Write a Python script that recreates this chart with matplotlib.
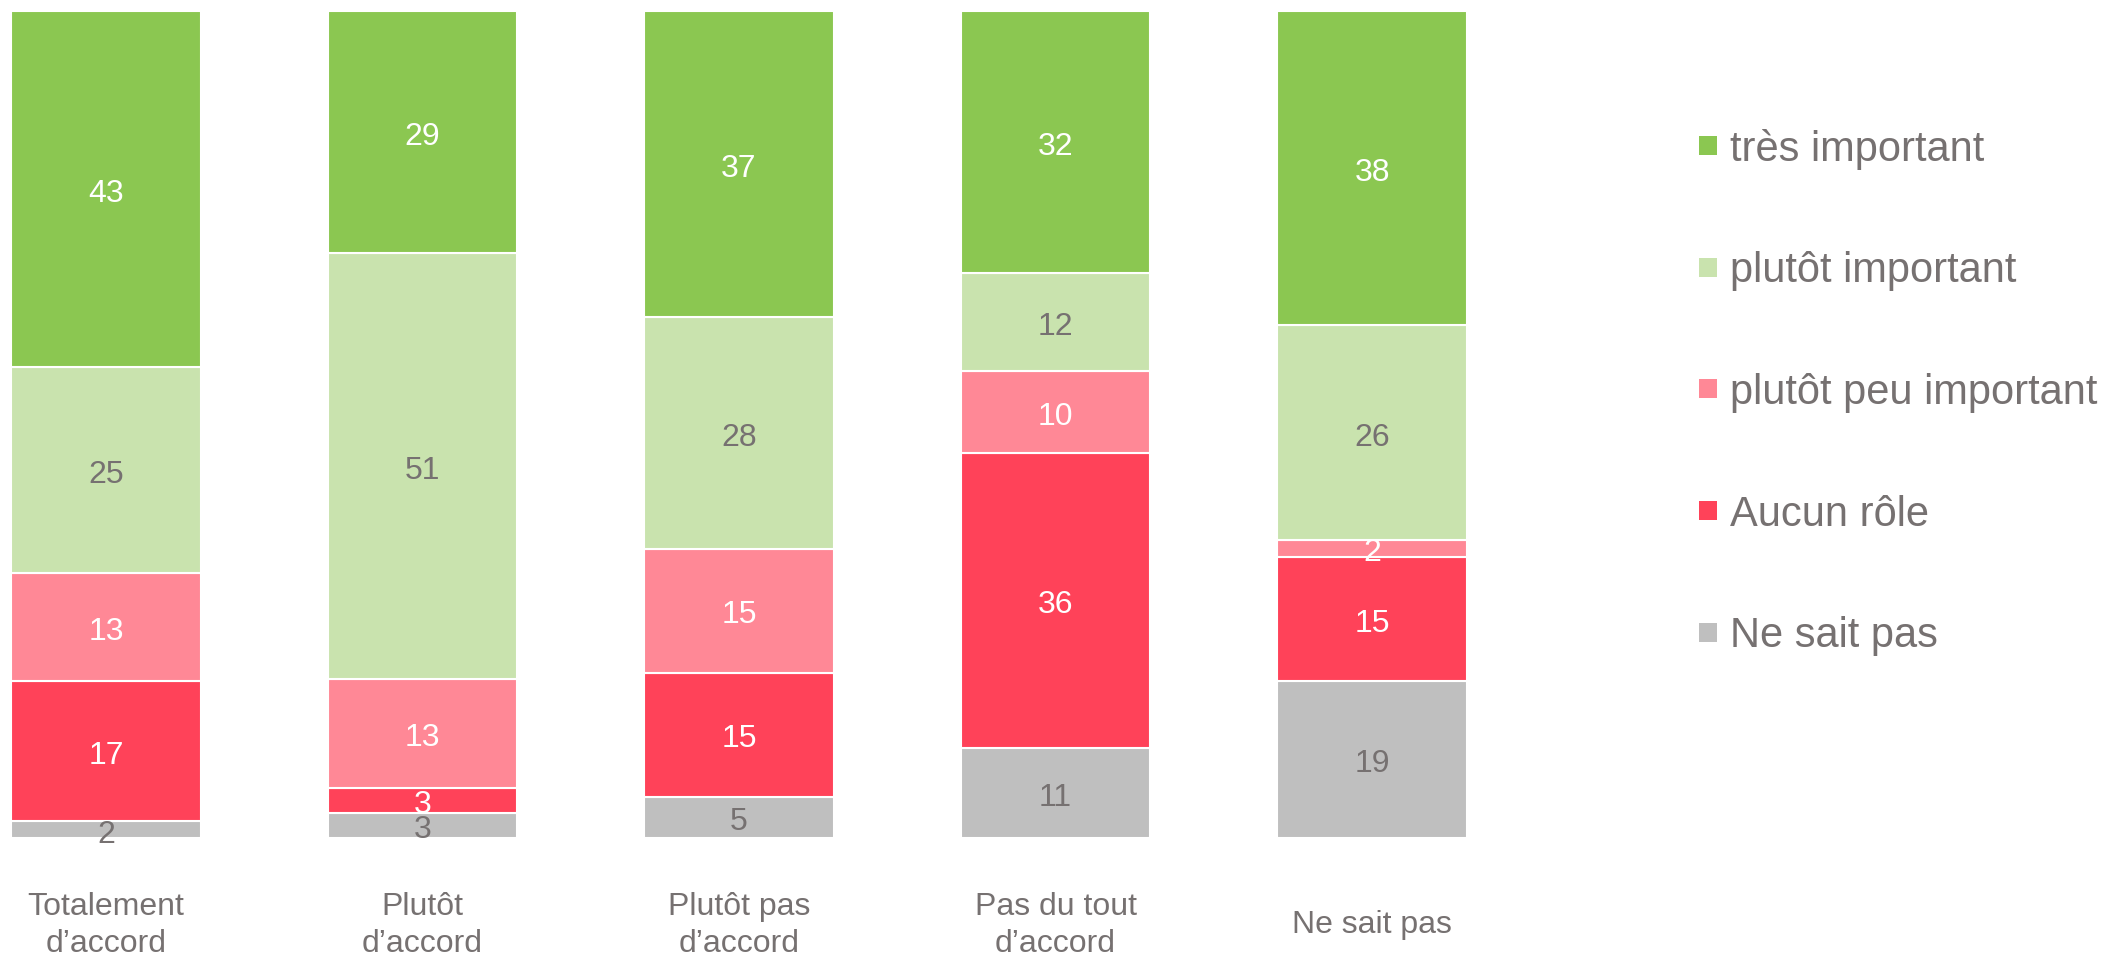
import matplotlib
matplotlib.use("Agg")
import matplotlib.pyplot as plt
import numpy as np

plt.rcParams['font.family'] = ['Liberation Sans', 'DejaVu Sans']

categories = ["Totalement\nd\u2019accord", "Plut\u00f4t\nd\u2019accord", "Plut\u00f4t pas\nd\u2019accord",
              "Pas du tout\nd\u2019accord", "Ne sait pas"]
series_names = ["Ne sait pas", "Aucun r\u00f4le", "plut\u00f4t peu important", "plut\u00f4t important", "tr\u00e8s important"]
ne_sait_pas = [2, 3, 5, 11, 19]
aucun_role = [17, 3, 15, 36, 15]
peu_important = [13, 13, 15, 10, 2]
plutot_important = [25, 51, 28, 12, 26]
tres_important = [43, 29, 37, 32, 38]

series = [ne_sait_pas, aucun_role, peu_important, plutot_important, tres_important]
colors = ["#BFBFBF", "#FF4259", "#FF8896", "#C9E3AE", "#8BC751"]
label_colors = ["#767171", "white", "white", "#767171", "white"]
text_gray = "#767171"

fig = plt.figure(figsize=(21.14, 9.59), dpi=100)
ax = fig.add_axes([11/2114, 121/959, 1456/2114, 827/959])

data = np.array(series, dtype=float)
totals = data.sum(axis=0)
pct = data / totals * 100
x = np.arange(len(categories))
bottom = np.zeros(len(categories))
handles = []
for i, name in enumerate(series_names):
    bars = ax.bar(x, pct[i], 0.6, bottom=bottom, color=colors[i], edgecolor="white",
                  linewidth=1.5, label=name)
    handles.append(bars)
    for j in range(len(categories)):
        ax.annotate(f"{int(data[i][j])}", (x[j], bottom[j] + pct[i][j] / 2),
                    xytext=(0, -3.5), textcoords="offset points", ha="center", va="center",
                    fontsize=23, color=label_colors[i])
    bottom += pct[i]

ax.set_xlim(-0.3, 4.3)
ax.set_ylim(0, 100)
ax.set_yticks([])
ax.set_xticks(x)
ax.set_xticklabels(categories, fontsize=23, color=text_gray, va="center", linespacing=1.3)
ax.tick_params(axis="x", length=0, pad=63)
for s in ax.spines.values():
    s.set_visible(False)

leg = fig.legend(handles[::-1], series_names[::-1], loc="upper left",
                 bbox_to_anchor=(1661/2114, 1 - 91/959), frameon=False, fontsize=30,
                 handlelength=0.45, handleheight=0.33, handletextpad=0.3, labelspacing=1.96)
for t in leg.get_texts():
    t.set_color(text_gray)
for h in leg.legend_handles:
    h.set_edgecolor("none")
    h.set_linewidth(0)

fig.savefig("out.png", dpi=100)
